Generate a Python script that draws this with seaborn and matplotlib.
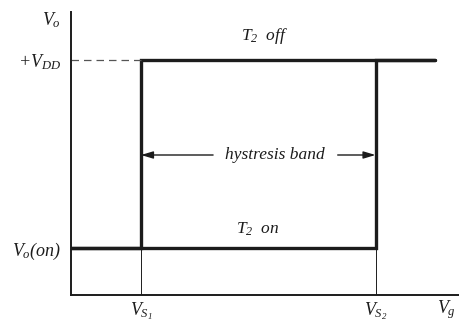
import matplotlib
matplotlib.use("Agg")
import matplotlib.pyplot as plt
import seaborn as sns
import pandas as pd

sns.set_theme(style="white")
plt.rcParams["font.family"] = ["Liberation Serif", "DejaVu Serif"]
plt.rcParams["font.style"] = "italic"
plt.rcParams["mathtext.fontset"] = "custom"
plt.rcParams["mathtext.it"] = "Liberation Serif:italic"
plt.rcParams["mathtext.rm"] = "Liberation Serif:italic"

# ---- data (abstract units) ----
VS1 = 1.0          # lower switching threshold
VS2 = 4.35         # upper switching threshold
VON = 1.0          # Vo(on)
VDD = 5.0          # +VDD
VG_MAX = 5.2       # end of drawn characteristic
xtick_labels = [r"$V_{S_1}$", r"$V_{S_2}$"]
ytick_labels = [r"$V_o(on)$", r"$+V_{DD}$"]

rising_vg = [0.0, VS2, VS2, VG_MAX]
rising_vo = [VON, VON, VDD, VDD]
falling_vg = [VG_MAX, VS1, VS1, 0.0]
falling_vo = [VDD, VDD, VON, VON]

df = pd.DataFrame({
    "vg": rising_vg + falling_vg,
    "vo": rising_vo + falling_vo,
    "branch": ["rising"] * 4 + ["falling"] * 4,
})

W, H = 459, 322
fig = plt.figure(figsize=(W / 100, H / 100), dpi=100)
ax = fig.add_axes([71 / W, (H - 295) / H, (W - 71) / W, (295 - 12) / H])

ink = "#1c1c1c"
sns.lineplot(data=df, x="vg", y="vo", hue="branch", sort=False, estimator=None,
             palette={"rising": ink, "falling": ink}, linewidth=2.4,
             legend=False, ax=ax, solid_joinstyle="miter")

# thin guide lines
for v in (VS1, VS2):
    ax.plot([v, v], [0, VON], color=ink, lw=0.7)
ax.plot([0, VS1], [VDD, VDD], color="#555555", lw=0.9, ls=(0, (6, 4)))

ax.set_xlim(0, (W - 71) / 70)
ax.set_ylim(0, (295 - 12) / 47)

for s in ("top", "right"):
    ax.spines[s].set_visible(False)
for s in ("left", "bottom"):
    ax.spines[s].set_color(ink)
    ax.spines[s].set_linewidth(1.4)

ax.set_xticks([VS1, VS2], xtick_labels)
ax.set_yticks([VON, VDD], ytick_labels)
ax.tick_params(axis="x", length=0, pad=4, labelsize=13, colors=ink)
ax.tick_params(axis="y", length=0, pad=7, labelsize=13, colors=ink)
ax.set_xlabel("")
ax.set_ylabel("")

ax.text(-20 / 70, (295 - 20) / 47, r"$V_o$", fontsize=13, ha="center",
        va="center", color=ink, clip_on=False)
ax.text((446 - 71) / 70, -(310 - 295) / 47, r"$V_g$", fontsize=13,
        ha="center", va="center", color=ink, clip_on=False)

ax.text(2.77, (295 - 36) / 47, r"$T_2$  off", fontsize=12.5, ha="center",
        va="center", color=ink)
ax.text(2.67, (295 - 229) / 47, r"$T_2$  on", fontsize=12.5, ha="center",
        va="center", color=ink)

yb = (295 - 155) / 47
ax.text(2.91, yb, "hystresis band", fontsize=12.5, ha="center", va="center",
        color=ink)
arrow = dict(arrowstyle="-|>,head_length=0.6,head_width=0.18", color=ink,
             lw=1.0, shrinkA=0, shrinkB=0)
ax.annotate("", xy=(VS1, yb), xytext=(2.03, yb), arrowprops=arrow)
ax.annotate("", xy=(VS2, yb), xytext=(3.81, yb), arrowprops=arrow)

fig.savefig("out.png", dpi=100)
